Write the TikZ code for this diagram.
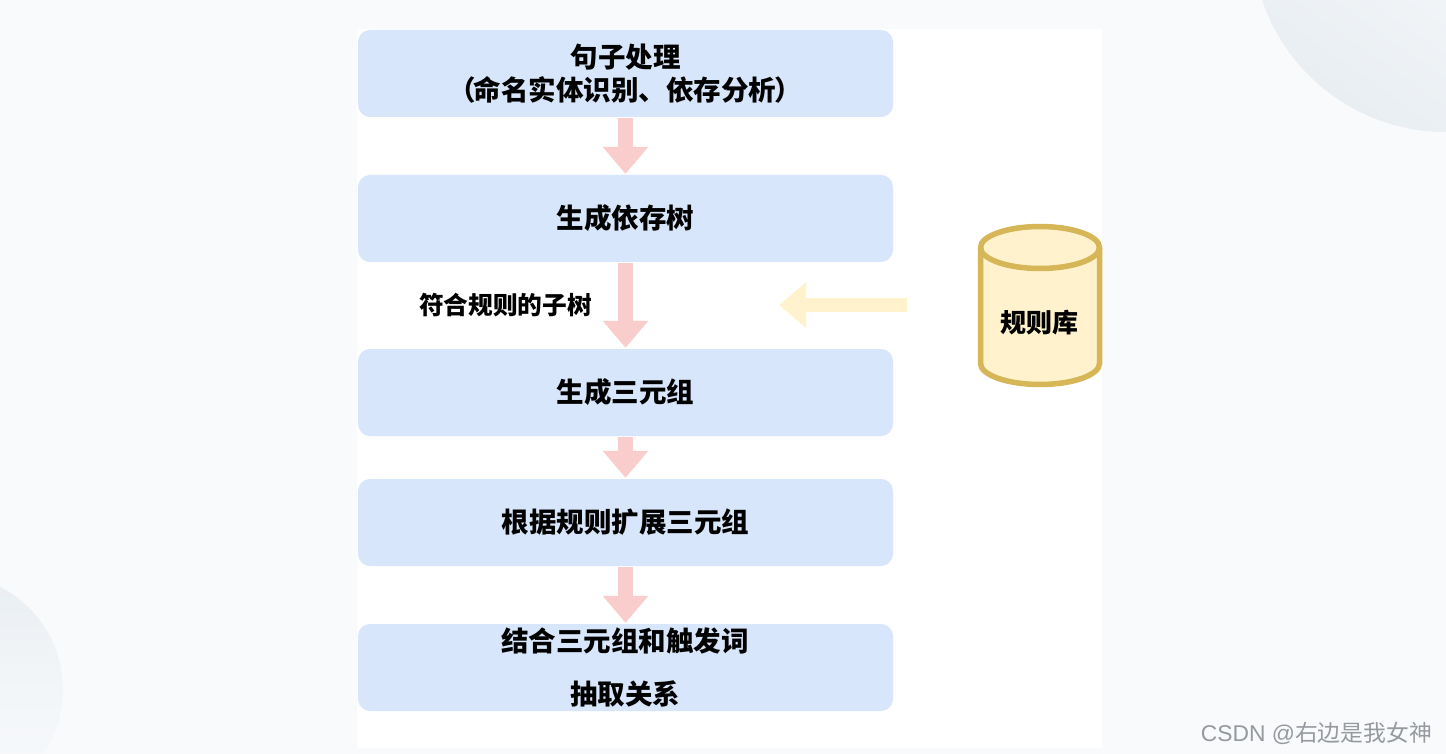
\documentclass[tikz,border=0pt]{standalone}
\usepackage{fontspec}
\setmainfont{Noto Sans CJK SC}
\newfontfamily\wmfont{Liberation Sans}
\usetikzlibrary{arrows.meta}
\definecolor{bgc}{HTML}{F8FAFC}
\definecolor{blobc}{HTML}{E9EEF2}
\definecolor{boxc}{HTML}{D7E6FA}
\definecolor{pinkc}{HTML}{F8CDCC}
\definecolor{yelc}{HTML}{FFF2CC}
\definecolor{goldc}{HTML}{D6B656}
\definecolor{wmc}{HTML}{969A9E}
\tikzset{
  x=1pt,y=-1pt,
  stepbox/.style={rectangle,rounded corners=12pt,fill=boxc,minimum width=535pt,minimum height=87pt,inner sep=0pt,font=\fontsize{27.5}{33}\selectfont\bfseries,align=center,text=black},
  steptext/.style={font=\fontsize{27.5}{33}\selectfont\bfseries,inner sep=0pt,text=black},
  pinkarrow/.style={draw=pinkc,line width=14.5pt,-{Triangle[length=27pt,width=44pt,color=pinkc]},shorten >=1pt,shorten <=1pt},
  yelarrow/.style={draw=yelc,line width=14.5pt,-{Triangle[length=27pt,width=44pt,color=yelc]}},
  lbl/.style={font=\fontsize{24.7}{30}\selectfont\bfseries,text=black,inner sep=0pt},
  dbline/.style={draw=goldc,line width=5.5pt,line join=round},
}
\begin{document}
\begin{tikzpicture}
\useasboundingbox (0,0) rectangle (1446,754);
\fill[bgc] (0,0) rectangle (1446,754);
\begin{scope}
\clip (0,0) rectangle (1446,754);
\shade[top color=bgc,bottom color=blobc,middle color=bgc!72!blobc,shading angle=-35] (1446,-62) circle[radius=194];
\shade[top color=blobc,bottom color=bgc,middle color=bgc!65!blobc] (-53,690) circle[radius=116];
\end{scope}
\fill[white] (357,29) rectangle (1102,748);
\node[stepbox] (b1) at (625.5,73.5) {句子处理\\（\hspace*{-2.5pt}命名实体识别、依存分析\hspace*{-1.5pt}）};
\node[stepbox] (b2) at (625.5,218.5) {生成依存树};
\node[stepbox] (b3) at (625.5,392.5) {生成三元组};
\node[stepbox] (b4) at (625.5,522.5) {根据规则扩展三元组};
\node[stepbox] (b5) at (625.5,667.5) {};
\node[steptext] (t5a) at (625,641) {结合三元组和触发词};
\node[steptext] (t5b) at (625,694) {抽取关系};
\draw[pinkarrow] (b1.south) -- (b2.north);
\draw[pinkarrow] (b2.south) -- (b3.north);
\draw[pinkarrow] (b3.south) -- (b4.north);
\draw[pinkarrow] (b4.south) -- (b5.north);
\node[lbl] (l1) at (505.5,305) {符合规则的子树};
\coordinate (ys) at (907,305);
\coordinate (ye) at (779,305);
\draw[yelarrow] (ys) -- (ye);
\path[dbline,fill=yelc] (980.5,247.5) -- (980.5,363.5)
  .. controls (980.5,375.1) and (1007.6,384.5) .. (1040,384.5)
  .. controls (1072.4,384.5) and (1099.5,375.1) .. (1099.5,363.5) -- (1099.5,247.5)
  .. controls (1099.5,235.9) and (1072.4,226.5) .. (1040,226.5)
  .. controls (1007.6,226.5) and (980.5,235.9) .. (980.5,247.5) -- cycle;
\path[dbline] (980.5,247.5)
  .. controls (980.5,259.1) and (1007.6,268.5) .. (1040,268.5)
  .. controls (1072.4,268.5) and (1099.5,259.1) .. (1099.5,247.5);
\node[font=\fontsize{26}{30}\selectfont\bfseries,inner sep=0pt,text=black] (db) at (1039,323) {规则库};
\node[font=\fontsize{22.8}{26}\selectfont,text=wmc,inner sep=0pt,anchor=east] (wm) at (1432,733) {{\wmfont CSDN @}右边是我女神};
\end{tikzpicture}
\end{document}
